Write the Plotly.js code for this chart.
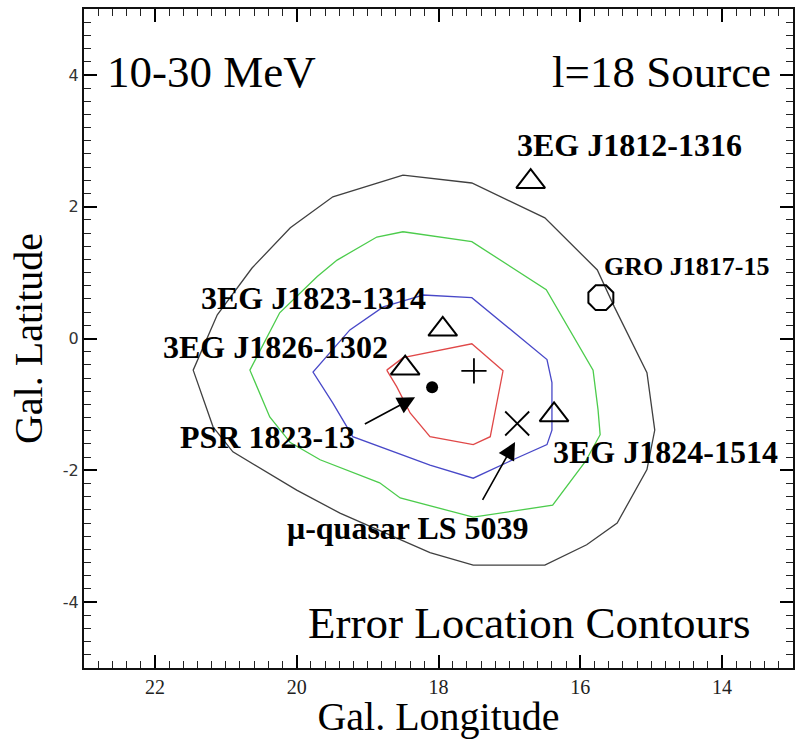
<!DOCTYPE html>
<html><head><meta charset="utf-8">
<script src="https://cdn.plot.ly/plotly-3.0.1.min.js"></script>
<style>html,body{margin:0;padding:0;background:#fff}#chart{width:805px;height:739px}</style>
</head><body><div id="chart"></div>
<script>
// Error location contours (Gal. longitude / latitude, degrees)
const blackL = [18.50,17.53,16.50,15.76,15.52,15.06,14.95,15.06,15.48,15.91,16.50,17.51,18.12,19.39,20.00,20.48,20.90,21.18,21.41,21.46,21.12,20.63,20.09,19.49,18.50];
const blackB = [2.48,2.36,1.83,1.04,0.48,-0.52,-1.39,-1.99,-2.80,-3.13,-3.44,-3.44,-3.25,-2.65,-2.30,-1.99,-1.72,-1.34,-0.62,-0.48,0.36,1.07,1.68,2.15,2.48];
const greenL = [18.50,17.53,16.48,15.82,15.75,15.72,15.93,16.39,17.51,18.54,18.83,19.67,20.09,20.38,20.66,20.24,19.71,19.43,18.87,18.50];
const greenB = [1.62,1.47,0.74,-0.48,-1.08,-1.46,-1.87,-2.53,-2.71,-2.42,-2.19,-1.84,-1.58,-1.19,-0.48,0.39,0.94,1.19,1.54,1.62];
const blueL = [18.22,17.53,16.47,16.40,16.40,16.47,16.95,17.51,18.12,18.83,19.21,19.49,19.77,19.25,18.78,18.22];
const blueB = [0.66,0.62,-0.32,-0.67,-1.39,-1.61,-1.84,-2.12,-1.92,-1.64,-1.49,-0.98,-0.51,0.13,0.48,0.66];
const redL = [18.73,18.50,17.53,17.09,17.27,17.51,18.12,18.40,18.59,18.73];
const redB = [-0.48,-0.29,-0.08,-0.49,-1.49,-1.61,-1.49,-1.13,-0.73,-0.48];

// Sources
const egretNames = ["3EG J1812-1316","3EG J1823-1314","3EG J1826-1302","3EG J1824-1514"];
const egretL = [16.70,17.94,18.47,16.37];
const egretB = [2.38,0.14,-0.45,-1.16];
const groName = ["GRO J1817-15"];
const groL = [15.71];
const groB = [0.62];
const bestL = [17.50];
const bestB = [-0.49];
const psrName = ["PSR 1823-13"];
const psrL = [18.09];
const psrB = [-0.74];
const lsName = ["\u03bc-quasar LS 5039"];
const lsL = [16.89];
const lsB = [-1.29];

const xTicks = [22,20,18,16,14];
const yTicks = [-4,-2,0,2,4];
const yTickText = ["-4","-2","0","2","4"];

const serif = "Liberation Serif, Times New Roman, serif";
const line = (x,y,c)=>({type:'scatter',mode:'lines',x:x,y:y,line:{color:c,width:1.3},hoverinfo:'skip',showlegend:false});

const traces = [
  line(blackL,blackB,'#404040'),
  line(greenL,greenB,'#4ccc4c'),
  line(blueL,blueB,'#4848c8'),
  line(redL,redB,'#e04848'),
  {type:'scatter',mode:'markers',x:egretL,y:egretB,text:egretNames,marker:{symbol:'triangle-up-open',size:25,color:'#000',line:{width:2,color:'#000'}},showlegend:false},
  {type:'scatter',mode:'markers',x:groL,y:groB,text:groName,marker:{symbol:'octagon-open',size:27,color:'#000',line:{width:2,color:'#000'}},showlegend:false},
  {type:'scatter',mode:'markers',x:bestL,y:bestB,marker:{symbol:'cross-thin-open',size:18,color:'#000',line:{width:1.8,color:'#000'}},showlegend:false},
  {type:'scatter',mode:'markers',x:psrL,y:psrB,text:psrName,marker:{symbol:'circle',size:12,color:'#000'},showlegend:false},
  {type:'scatter',mode:'markers',x:lsL,y:lsB,text:lsName,marker:{symbol:'x-thin-open',size:24,color:'#000',line:{width:1.8,color:'#000'}},showlegend:false}
];

const lab = (t,x,y,xa,s)=>({text:'<b>'+t+'</b>',x:x,y:y,xref:'x',yref:'y',xanchor:xa,yanchor:'middle',showarrow:false,font:{family:serif,size:s||32,color:'#000'}});
const big = (t,x,y,xa)=>({text:t,x:x,y:y,xref:'paper',yref:'paper',xanchor:xa,yanchor:'middle',showarrow:false,font:{family:serif,size:45,color:'#000'}});

const annotations = [
  big('10-30 MeV',0.0296,0.905,'left'),
  big('l=18 Source',0.972,0.905,'right'),
  big('Error Location Contours',0.942,0.068,'right'),
  lab(egretNames[0],15.30,2.94,'center'),
  lab(groName[0],15.69,1.09,'left',26),
  lab(egretNames[1],19.77,0.62,'center'),
  lab(egretNames[2],18.68,-0.13,'right'),
  lab(psrName[0],21.67,-1.49,'left'),
  lab(lsName[0],20.17,-2.87,'left'),
  lab(egretNames[3],16.41,-1.72,'left'),
  {x:18.33,y:-0.89,xref:'x',yref:'y',ax:19.06,ay:-1.31,axref:'x',ayref:'y',showarrow:true,arrowhead:2,arrowsize:2.2,arrowwidth:1.6,arrowcolor:'#000',text:''},
  {x:16.92,y:-1.57,xref:'x',yref:'y',ax:17.39,ay:-2.47,axref:'x',ayref:'y',showarrow:true,arrowhead:2,arrowsize:2.2,arrowwidth:1.6,arrowcolor:'#000',text:''}
];

const layout = {
  width:805,height:739,
  margin:{l:84,r:12,t:9,b:71},
  paper_bgcolor:'#fff',plot_bgcolor:'#fff',
  showlegend:false,
  xaxis:{range:[23,13],tickvals:xTicks,ticks:'inside',ticklen:13,tickcolor:'#000',tickwidth:1.5,
    showline:true,mirror:'allticks',linecolor:'#111',linewidth:2,gridcolor:'rgba(0,0,0,0)',zeroline:false,
    minor:{dtick:0.2,ticks:'inside',ticklen:7,tickcolor:'#222',tickwidth:1},
    tickfont:{family:serif,size:20,color:'#222'},
    title:{text:'Gal. Longitude',font:{family:serif,size:40,color:'#000'},standoff:4}},
  yaxis:{range:[-5,5],tickvals:yTicks,ticktext:yTickText,ticks:'inside',ticklen:13,tickcolor:'#000',tickwidth:1.5,
    showline:true,mirror:'allticks',linecolor:'#111',linewidth:2,gridcolor:'rgba(0,0,0,0)',zeroline:false,
    minor:{dtick:0.2,ticks:'inside',ticklen:7,tickcolor:'#222',tickwidth:1},
    tickfont:{family:'DejaVu Sans, sans-serif',size:16,color:'#333'},
    title:{text:'Gal. Latitude',font:{family:serif,size:40,color:'#000'},standoff:8}},
  annotations:annotations
};
Plotly.newPlot('chart',traces,layout,{displayModeBar:false});
</script></body></html>
